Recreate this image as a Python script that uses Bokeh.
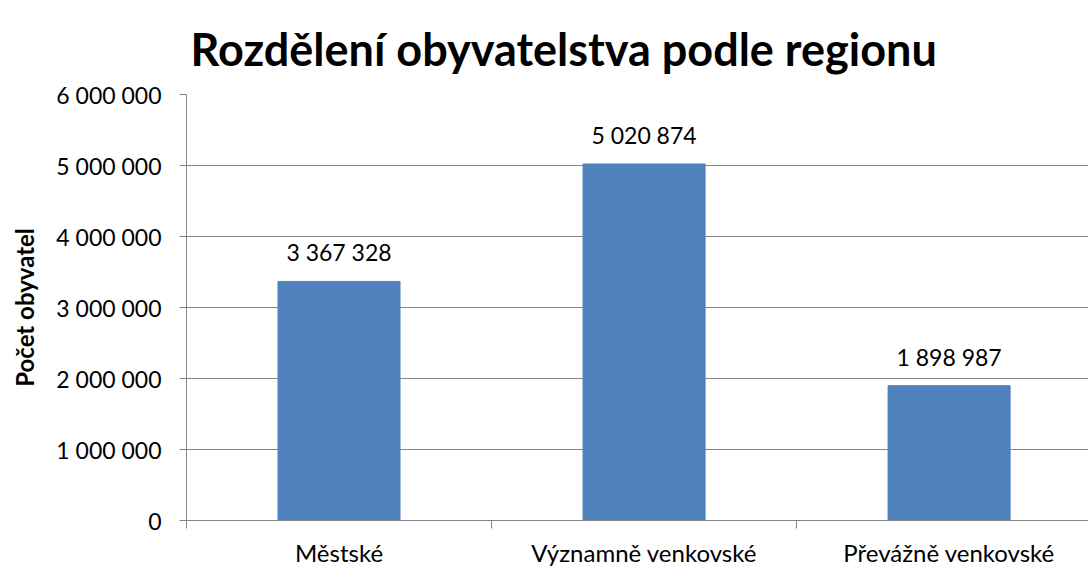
from bokeh.plotting import figure
from bokeh.models import Range1d, FixedTicker, ColumnDataSource, LabelSet
from bokeh.core.properties import value
from bokeh.embed import file_html
from bokeh.resources import INLINE

categories = ["Městské", "Významně venkovské", "Převážně venkovské"]
population = [3367328, 5020874, 1898987]
y_ticks = [0, 1000000, 2000000, 3000000, 4000000, 5000000, 6000000]
title_text = "Rozdělení obyvatelstva podle regionu"

def fmt(v):
    return f"{v:,}".replace(",", " ")

FONT = "Lato"
GRAY = "#868686"

xs = [i + 0.5 for i in range(len(categories))]
src = ColumnDataSource(dict(x=xs, top=population, lab=[fmt(v) for v in population]))

p = figure(width=1088, height=569, output_backend="svg", toolbar_location=None,
           x_range=Range1d(0, 2.957), y_range=Range1d(0, 6000000),
           min_border_left=186, min_border_right=0, min_border_top=94, min_border_bottom=48)

p.vbar(x="x", top="top", width=0.4, source=src, color="#4F81BD")
p.add_layout(LabelSet(x="x", y="top", text="lab", source=src, text_align="center",
                      text_baseline="bottom", y_offset=15, text_font=value(FONT),
                      text_font_size=value("23px"), text_color="#000000"))

p.title.text = title_text
p.title.text_font = FONT
p.title.text_font_size = "45px"
p.title.text_font_style = "bold"
p.title.text_color = "#000000"
p.title.align = "left"
p.title.offset = 4
p.title.standoff = 38

p.outline_line_color = None
p.xgrid.grid_line_color = None
p.ygrid.grid_line_color = GRAY
p.ygrid.grid_line_width = 1

p.yaxis.ticker = FixedTicker(ticks=y_ticks, minor_ticks=[])
p.yaxis.major_label_overrides = {t: fmt(t) for t in y_ticks}
p.yaxis.axis_line_color = GRAY
p.yaxis.major_tick_line_color = GRAY
p.yaxis.major_tick_out = 7
p.yaxis.major_tick_in = 0
p.yaxis.minor_tick_line_color = None
p.yaxis.major_label_standoff = 18
p.yaxis.major_label_text_font = FONT
p.yaxis.major_label_text_font_size = "23px"
p.yaxis.major_label_text_color = "#000000"
p.yaxis.axis_label = "Počet obyvatel"
p.yaxis.axis_label_text_font = FONT
p.yaxis.axis_label_text_font_size = "24px"
p.yaxis.axis_label_text_font_style = "bold"
p.yaxis.axis_label_text_color = "#000000"
p.yaxis.axis_label_standoff = 14

p.xaxis.ticker = FixedTicker(ticks=xs, minor_ticks=list(range(len(categories) + 1)))
p.xaxis.major_label_overrides = {x: c for x, c in zip(xs, categories)}
p.xaxis.axis_line_color = GRAY
p.xaxis.major_tick_line_color = None
p.xaxis.major_tick_out = 0
p.xaxis.major_tick_in = 0
p.xaxis.minor_tick_line_color = GRAY
p.xaxis.minor_tick_out = 8
p.xaxis.minor_tick_in = 0
p.xaxis.major_label_standoff = 9
p.xaxis.major_label_text_font = FONT
p.xaxis.major_label_text_font_size = "24px"
p.xaxis.major_label_text_color = "#000000"

open("out.html", "w").write(file_html(p, INLINE))
